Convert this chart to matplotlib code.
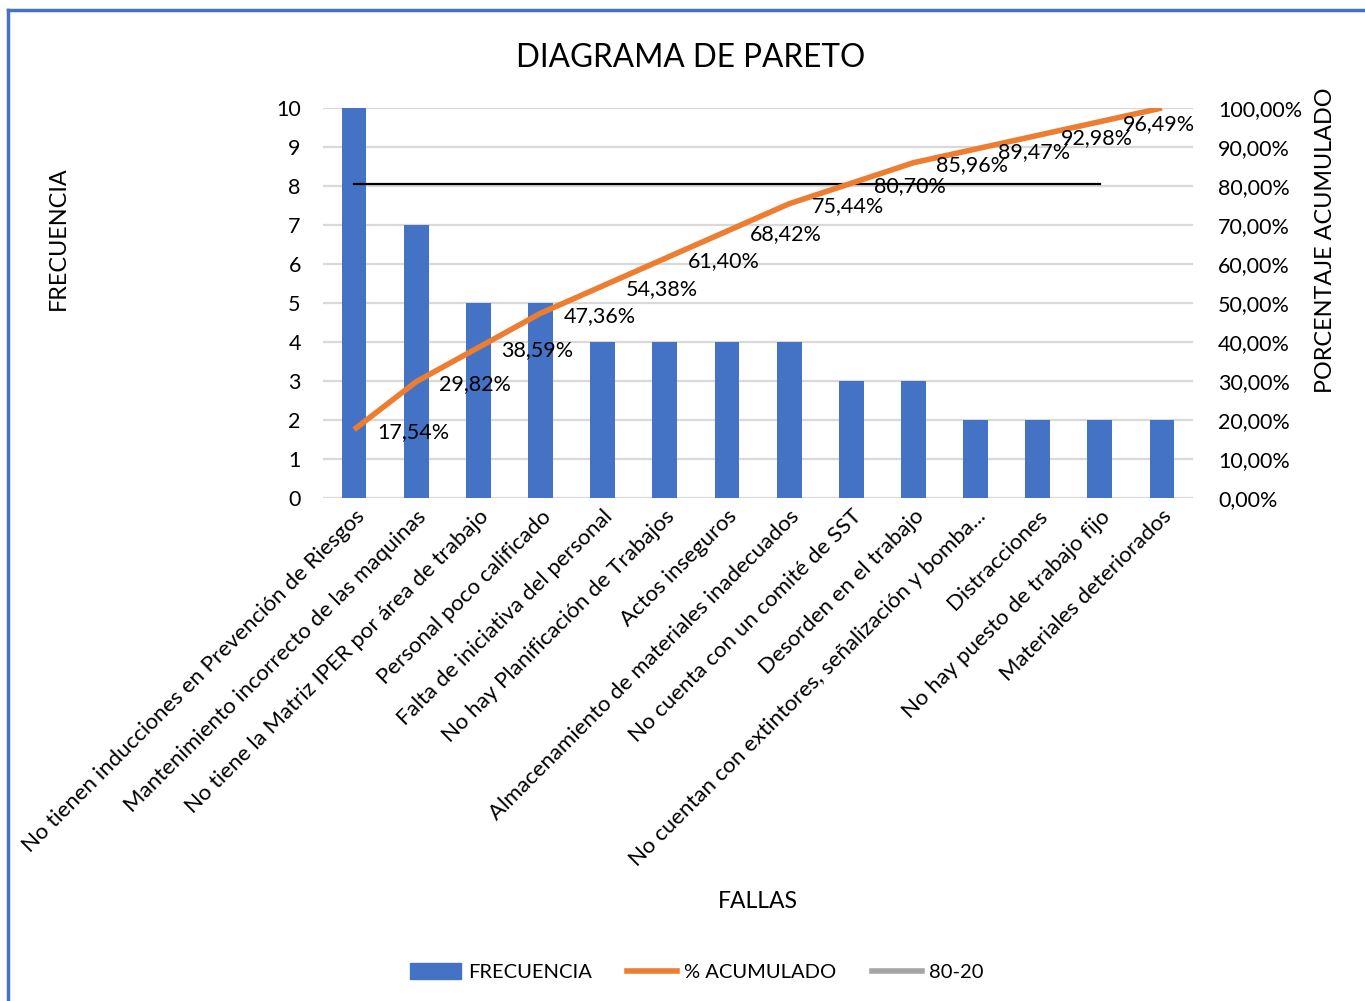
import matplotlib.pyplot as plt
from matplotlib.patches import Rectangle
from matplotlib.lines import Line2D
import numpy as np

plt.rcParams['font.family'] = ['Lato', 'DejaVu Sans']

# data
fallas = [
    "No tienen inducciones en Prevención de Riesgos",
    "Mantenimiento incorrecto de las maquinas",
    "No tiene la Matriz IPER por área de trabajo",
    "Personal poco calificado",
    "Falta de iniciativa del personal",
    "No hay Planificación de Trabajos",
    "Actos inseguros",
    "Almacenamiento de materiales inadecuados",
    "No cuenta con un comité de SST",
    "Desorden en el trabajo",
    "No cuentan con extintores, señalización y bomba...",
    "Distracciones",
    "No hay puesto de trabajo fijo",
    "Materiales deteriorados",
]
frecuencia = [10, 7, 5, 5, 4, 4, 4, 4, 3, 3, 2, 2, 2, 2]
acumulado = [17.54, 29.82, 38.59, 47.36, 54.38, 61.40, 68.42, 75.44,
             80.70, 85.96, 89.47, 92.98, 96.49, 100.00]
etiquetas = ["17,54%", "29,82%", "38,59%", "47,36%", "54,38%", "61,40%", "68,42%",
             "75,44%", "80,70%", "85,96%", "89,47%", "92,98%", "96,49%", ""]
linea_80 = 80

blue = '#4472C4'
orange = '#ED7D31'
grid_c = '#D9D9D9'

fig = plt.figure(figsize=(13.65, 10.01), dpi=100)

# outer chart frame (only left/top visible in the original crop)
fig.add_artist(Line2D([8 / 1365, 8 / 1365], [0, 1 - 10 / 1001], color=blue, lw=2.5,
                      transform=fig.transFigure))
fig.add_artist(Line2D([8 / 1365, 1], [1 - 10 / 1001, 1 - 10 / 1001], color=blue, lw=2.5,
                      transform=fig.transFigure))

ax = fig.add_axes([323 / 1365, 1 - 498 / 1001, 870 / 1365, 390 / 1001])
x = np.arange(len(fallas))

ax.set_axisbelow(True)
ax.yaxis.grid(True, color=grid_c, lw=1.6)
ax.bar(x, frecuencia, width=0.4, color=blue, zorder=2)
ax.set_xlim(-0.5, len(fallas) - 0.5)
ax.set_ylim(0, 10)
ax.set_yticks(range(0, 11))
for s in ax.spines.values():
    s.set_visible(False)
ax.tick_params(axis='y', length=0, labelsize=15.5, pad=16)
ax.set_xticks(x)
ax.set_xticklabels(fallas, rotation=45, ha='right', rotation_mode='anchor', fontsize=16)
ax.tick_params(axis='x', length=0, pad=6)

ax2 = ax.twinx()
ax2.set_ylim(0, 100)
ax2.set_yticks(range(0, 101, 10))
ax2.set_yticklabels([f"{v},00%" for v in range(0, 101, 10)])
for s in ax2.spines.values():
    s.set_visible(False)
ax2.tick_params(axis='y', length=0, labelsize=15.5, pad=18)

ax2.plot(x, acumulado, color=orange, lw=4, zorder=4, solid_capstyle='butt')
ax2.plot([x[0], x[12]], [linea_80 + 0.5, linea_80 + 0.5], color='black', lw=1.6, zorder=3)

for xi, yi, t in zip(x, acumulado, etiquetas):
    if t:
        ax2.annotate(t, (xi, yi), xytext=(16.5, -2), textcoords='offset points',
                     ha='left', va='center', fontsize=15.5, zorder=5)

fig.text(691 / 1365, 1 - 58 / 1001, "DIAGRAMA DE PARETO", ha='center', va='center',
         fontsize=22.7)
fig.text(58 / 1365, 1 - 238 / 1001, "FRECUENCIA", ha='center', va='center',
         rotation=90, fontsize=16.8)
fig.text(1325 / 1365, 1 - 240 / 1001, "PORCENTAJE ACUMULADO", ha='center', va='center',
         rotation=90, fontsize=16.8)
fig.text(758 / 1365, 1 - 902 / 1001, "FALLAS", ha='center', va='center', fontsize=16.5)

handles = [Rectangle((0, 0), 1, 1, color=blue),
           Line2D([], [], color=orange, lw=4),
           Line2D([], [], color='#A5A5A5', lw=4)]
fig.legend(handles, ["FRECUENCIA", "% ACUMULADO", "80-20"], loc='center',
           bbox_to_anchor=(697 / 1365, 1 - 972 / 1001), ncol=3, frameon=False,
           fontsize=14.5, handlelength=2.5, handleheight=0.8, columnspacing=1.75,
           handletextpad=0.35)

fig.savefig('out.png', dpi=100)
